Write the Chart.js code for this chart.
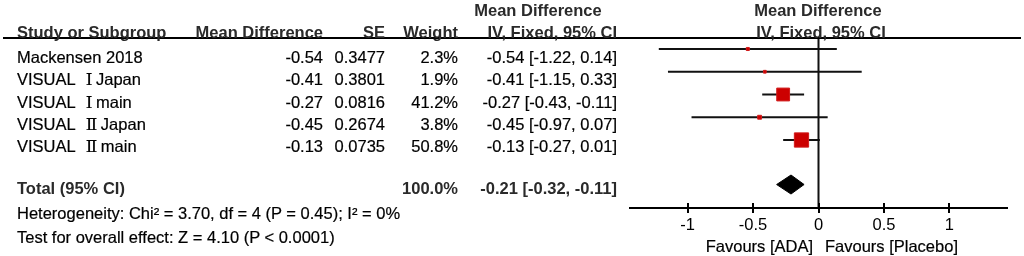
<!DOCTYPE html>
<html>
<head>
<meta charset="utf-8">
<script src="https://cdn.jsdelivr.net/npm/chart.js@4.4.1/dist/chart.umd.min.js"></script>
<style>
  html, body { margin: 0; padding: 0; background: #fff; }
  #wrap { position: relative; width: 1024px; height: 256px; overflow: hidden; }
  #plot { position: absolute; left: 0; top: 0; }
  .t { position: absolute; font-family: 'Liberation Sans', Arial, 'DejaVu Sans', sans-serif; font-size: 16.5px;
       line-height: 20px; color: #000; white-space: nowrap; -webkit-text-stroke: 0.2px #000; }
  .b { font-weight: bold; color: #2a2a2a; -webkit-text-stroke: 0; }
  .rn { font-family: 'DejaVu Serif', 'Liberation Serif', serif; font-size: 17px; line-height: 0;
        margin-left: 10px; margin-right: -1px; }
  .hline { position: absolute; left: 3px; width: 1018px; top: 37px; height: 2px; background: #000; }
</style>
</head>
<body>
<div id="wrap">
  <canvas id="plot" width="1024" height="256"></canvas>
  <div class="hline"></div>
</div>
<script>
const studies  = ['Mackensen 2018', 'VISUAL Ⅰ Japan', 'VISUAL Ⅰ main', 'VISUAL Ⅱ Japan', 'VISUAL Ⅱ main'];
const meanDiff = [-0.54, -0.41, -0.27, -0.45, -0.13];
const seVals   = ['0.3477', '0.3801', '0.0816', '0.2674', '0.0735'];
const weights  = [2.3, 1.9, 41.2, 3.8, 50.8];
const ciLow    = [-1.22, -1.15, -0.43, -0.97, -0.27];
const ciHigh   = [0.14, 0.33, -0.11, 0.07, 0.01];

const totalMD   = -0.21;
const totalLow  = -0.32;
const totalHigh = -0.11;
const totalWeight = '100.0%';

const xTicks = [-1, -0.5, 0, 0.5, 1];
const heterogeneity = 'Heterogeneity: Chi² = 3.70, df = 4 (P = 0.45); I² = 0%';
const overallTest   = 'Test for overall effect: Z = 4.10 (P < 0.0001)';
const favLeft  = 'Favours [ADA]';
const favRight = 'Favours [Placebo]';

// plot layout (y is a row index, reversed)
const Y_MIN = -0.4835, Y_MAX = 6.989, TOTAL_ROW = 5.957, DIAMOND_H = 0.418;
const X_MIN = -1.44, X_MAX = 1.44;

const fmt = v => v.toFixed(2);
const ciText = (m, l, h) => `${fmt(m)} [${fmt(l)}, ${fmt(h)}]`;

// ---- table text ----
const wrap = document.getElementById('wrap');
function txt(s, y, opts) {
  const d = document.createElement('div');
  d.className = 't' + (opts.bold ? ' b' : '');
  d.textContent = s;
  if (/[ⅠⅡ]/.test(s)) d.innerHTML = d.innerHTML.replace(/ ?([ⅠⅡ])/g, '<span class="rn">$1</span>');
  d.style.top = (y - 10) + 'px';
  if (opts.left !== undefined) d.style.left = opts.left + 'px';
  if (opts.right !== undefined) d.style.right = (1024 - opts.right) + 'px';
  if (opts.center !== undefined) { d.style.left = opts.center + 'px'; d.style.transform = 'translateX(-50%)'; }
  wrap.appendChild(d);
}

const COL = { name: 17, md: 323, se: 385, w: 458, ci: 617 };
const textRows = [57, 79, 101.5, 124, 146];

txt('Mean Difference', 10, { center: 538, bold: true });
txt('Mean Difference', 10, { center: 818, bold: true });
txt('Study or Subgroup', 32, { left: COL.name, bold: true });
txt('Mean Difference', 32, { right: COL.md, bold: true });
txt('SE', 32, { right: COL.se, bold: true });
txt('Weight', 32, { right: COL.w, bold: true });
txt('IV, Fixed, 95% CI', 32, { right: COL.ci, bold: true });
txt('IV, Fixed, 95% CI', 32, { center: 821, bold: true });

studies.forEach((s, i) => {
  const y = textRows[i];
  txt(s, y, { left: COL.name });
  txt(fmt(meanDiff[i]), y, { right: COL.md });
  txt(seVals[i], y, { right: COL.se });
  txt(weights[i].toFixed(1) + '%', y, { right: COL.w });
  txt(ciText(meanDiff[i], ciLow[i], ciHigh[i]), y, { right: COL.ci });
});
txt('Total (95% CI)', 188, { left: COL.name, bold: true });
txt(totalWeight, 188, { right: COL.w, bold: true });
txt(ciText(totalMD, totalLow, totalHigh), 188, { right: COL.ci, bold: true });
txt(heterogeneity, 213, { left: COL.name });
txt(overallTest, 237, { left: COL.name });
txt(favLeft, 246, { right: 813 });
txt(favRight, 246, { left: 825 });

// ---- forest plot ----
const ciSets = studies.map((s, i) => ({
  label: s,
  data: [{ x: ciLow[i], y: i }, { x: ciHigh[i], y: i }],
  showLine: true, borderColor: '#111', borderWidth: 2, pointRadius: 0, order: 2,
}));

const squares = {
  label: 'Mean difference',
  data: meanDiff.map((m, i) => ({ x: m, y: i })),
  pointStyle: 'rect',
  pointRadius: ctx => 2.0 * Math.sqrt(weights[ctx.dataIndex]) / Math.SQRT2,
  backgroundColor: '#cc0000', borderColor: '#d11a1a', borderWidth: 1, order: 1,
};

const diamond = {
  label: 'Total',
  data: [
    { x: totalLow, y: TOTAL_ROW }, { x: totalMD, y: TOTAL_ROW - DIAMOND_H },
    { x: totalHigh, y: TOTAL_ROW }, { x: totalMD, y: TOTAL_ROW + DIAMOND_H },
    { x: totalLow, y: TOTAL_ROW },
  ],
  showLine: true, fill: 'shape', backgroundColor: '#000', borderColor: '#000', borderWidth: 1,
  pointRadius: 0, tension: 0, order: 1,
};

const zeroLine = {
  label: 'zero',
  data: [{ x: 0, y: Y_MIN }, { x: 0, y: Y_MAX }],
  showLine: true, borderColor: '#111', borderWidth: 2, pointRadius: 0, order: 3,
};

const upTicks = {
  id: 'upTicks',
  afterDraw(chart) {
    const sx = chart.scales.x, ctx = chart.ctx, b = chart.chartArea.bottom;
    ctx.save();
    ctx.strokeStyle = '#000';
    ctx.lineWidth = 2;
    xTicks.forEach(v => {
      const px = Math.round(sx.getPixelForValue(v));
      ctx.beginPath(); ctx.moveTo(px, b - 5); ctx.lineTo(px, b); ctx.stroke();
    });
    ctx.restore();
  },
};

new Chart(document.getElementById('plot'), {
  type: 'scatter',
  data: { datasets: [zeroLine, ...ciSets, squares, diamond] },
  options: {
    responsive: false, animation: false, devicePixelRatio: 1,
    layout: { padding: { left: 630, right: 17, top: 38, bottom: 0 } },
    plugins: { legend: { display: false }, tooltip: { enabled: false } },
    scales: {
      x: {
        type: 'linear', min: X_MIN, max: X_MAX,
        afterBuildTicks: s => { s.ticks = xTicks.map(v => ({ value: v })); },
        afterFit: s => { s.height = 48; },
        grid: { drawOnChartArea: false, drawTicks: true, tickLength: 5, color: '#000', lineWidth: 2 },
        border: { display: true, color: '#000', width: 2 },
        ticks: { color: '#000', padding: 3, font: { family: "'Liberation Sans', Arial, sans-serif", size: 16.5 },
                 maxRotation: 0, callback: v => String(v) },
      },
      y: { type: 'linear', reverse: true, min: Y_MIN, max: Y_MAX, display: false },
    },
  },
  plugins: [upTicks],
});
</script>
</body>
</html>
